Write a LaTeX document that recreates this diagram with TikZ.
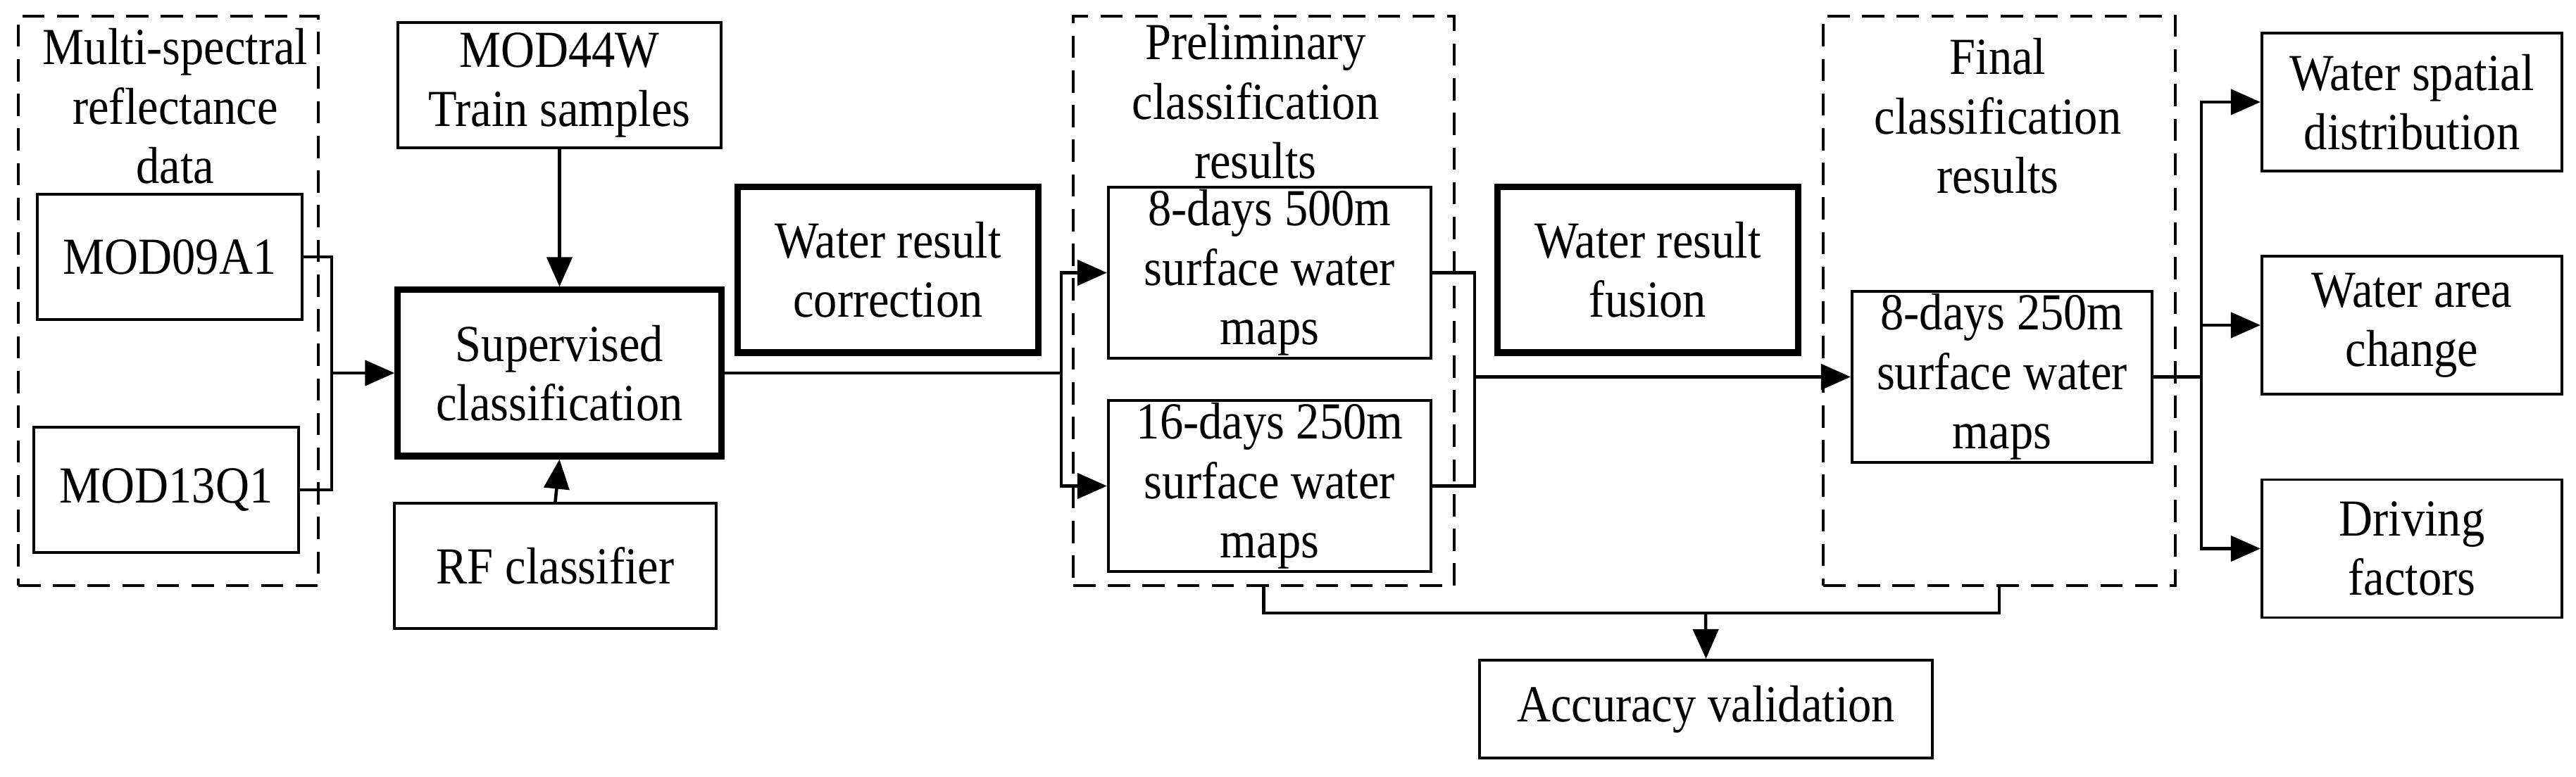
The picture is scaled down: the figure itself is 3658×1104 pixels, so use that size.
\documentclass[tikz,border=0pt]{standalone}
\usepackage{fontspec}
\setmainfont[FakeStretch=0.9]{Liberation Serif}
\usetikzlibrary{arrows.meta}
\begin{document}
\begin{tikzpicture}[x=0.01cm,y=-0.01cm,
  every node/.style={font=\fontsize{21}{24}\selectfont, align=center, inner sep=0pt},
  box/.style={draw, line width=1.1pt},
  tbox/.style={draw, line width=2.6pt},
  dbox/.style={draw, line width=1.1pt, dash pattern=on 9pt off 5pt},
  ln/.style={line width=1.3pt},
  arr/.style={ln, -{Triangle[length=0.42cm,width=0.36cm]}}]
\useasboundingbox (0,0) rectangle (3658,1104);
% dashed groups
\node[dbox, minimum width=4.26cm, minimum height=8.09cm] (msd) at (239,427.5) {};
\node (msdt) at (249,151) {Multi-spectral\\reflectance\\data};
\node[dbox, minimum width=5.41cm, minimum height=8.09cm] (pre) at (1794.5,427.5) {};
\node (pret) at (1783,144) {Preliminary\\classification\\results};
\node[dbox, minimum width=5.0cm, minimum height=8.09cm] (fin) at (2839,427.5) {};
\node (fint) at (2837,165) {Final\\classification\\results};
% boxes
\node[box, minimum width=3.76cm, minimum height=1.78cm] (m1) at (241,365) {MOD09A1};
\node[box, minimum width=3.76cm, minimum height=1.78cm] (m2) at (236,696) {MOD13Q1};
\node[box, minimum width=4.59cm, minimum height=1.78cm] (m44) at (794.5,121) {MOD44W\\Train samples};
\node[tbox, minimum width=4.59cm, minimum height=2.36cm] (sup) at (794.5,530) {Supervised\\classification};
\node[box, minimum width=4.57cm, minimum height=1.78cm] (rf) at (788.5,804) {RF classifier};
\node[tbox, minimum width=4.26cm, minimum height=2.35cm] (wrc) at (1261,383.5) {Water result\\correction};
\node[box, minimum width=4.58cm, minimum height=2.43cm] (p1) at (1803,387.5) {8-days 500m\\surface water\\maps};
\node[box, minimum width=4.58cm, minimum height=2.43cm] (p2) at (1803,690.5) {16-days 250m\\surface water\\maps};
\node[tbox, minimum width=4.26cm, minimum height=2.35cm] (wrf) at (2340,383.5) {Water result\\fusion};
\node[box, minimum width=4.26cm, minimum height=2.43cm] (f1) at (2843,535.5) {8-days 250m\\surface water\\maps};
\node[box, minimum width=4.26cm, minimum height=1.96cm] (r1) at (3425,145) {Water spatial\\distribution};
\node[box, minimum width=4.26cm, minimum height=1.96cm] (r2) at (3425,462) {Water area\\change};
\node[box, minimum width=4.26cm, minimum height=1.96cm] (r3) at (3425,779.5) {Driving\\factors};
\node[box, minimum width=6.43cm, minimum height=1.39cm] (acc) at (2422.5,1007.5) {Accuracy validation};
% junctions
\coordinate (j1) at (471,530);
\coordinate (j2) at (1507,530);
\coordinate (j3) at (2094,535.5);
\coordinate (j4) at (3126,535.5);
\coordinate (j5) at (2422,871);
% connectors
\draw[ln] (m1.east) -| (j1);
\draw[ln] (m2.east) -| (j1);
\draw[arr] (j1) -- (sup.west);
\draw[arr] (m44.south) -- (sup.north);
\draw[arr] (rf.north) -- (sup.south);
\draw[ln] (sup.east) -- (j2);
\draw[arr] (j2) |- (p1.west);
\draw[arr] (j2) |- (p2.west);
\draw[ln] (p1.east) -| (j3);
\draw[ln] (p2.east) -| (j3);
\draw[arr] (j3) -- (f1.west);
\draw[ln] (f1.east) -- (j4);
\draw[arr] (j4) |- (r1.west);
\draw[arr] (j4) |- (r2.west);
\draw[arr] (j4) |- (r3.west);
\draw[ln] (pre.south) |- (j5) -| (fin.south);
\draw[arr] (j5) -- (acc.north);
\end{tikzpicture}
\end{document}
